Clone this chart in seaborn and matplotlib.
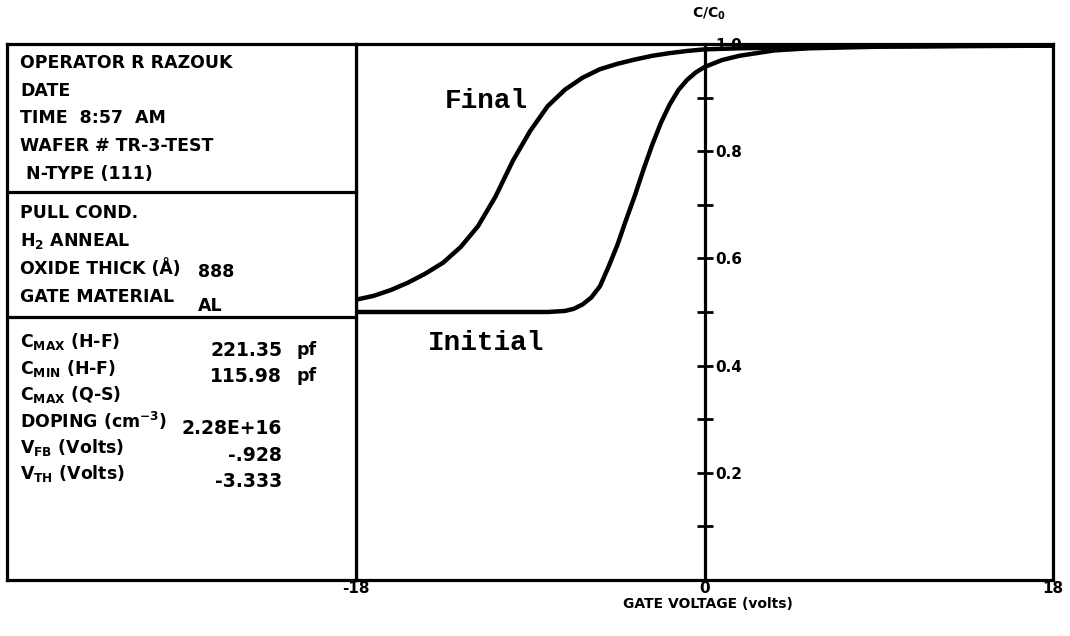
import matplotlib
matplotlib.use('Agg')
import matplotlib.pyplot as plt
import pandas as pd
import seaborn as sns

sns.set_style('white')
plt.rcParams['font.family'] = ['DejaVu Sans']
plt.rcParams['mathtext.default'] = 'bf'
plt.rcParams.update({'text.color': 'black', 'axes.labelcolor': 'black',
                     'xtick.color': 'black', 'ytick.color': 'black'})

# C/C0 against gate voltage
v_final = [-10, -9.5, -9, -8.5, -8, -7.5, -7, -6.5, -6, -5.5, -5, -4.5, -4, -3.5,
           -3, -2.5, -2, -1.5, -1, -0.5, 0, 1, 2, 4, 6, 8, 10]
c_final = [0.523, 0.530, 0.541, 0.555, 0.572, 0.592, 0.621, 0.660, 0.715, 0.782,
           0.838, 0.884, 0.915, 0.937, 0.953, 0.963, 0.971, 0.978, 0.983, 0.987,
           0.990, 0.992, 0.993, 0.995, 0.996, 0.997, 0.997]
v_initial = [-10, -8, -6, -5, -4.5, -4, -3.75, -3.5, -3.25, -3, -2.75, -2.5, -2.25,
             -2, -1.75, -1.5, -1.25, -1, -0.75, -0.5, -0.25, 0, 0.5, 1, 2, 3, 5, 10]
c_initial = [0.500, 0.500, 0.500, 0.500, 0.500, 0.502, 0.506, 0.514, 0.527, 0.548,
             0.585, 0.625, 0.672, 0.717, 0.766, 0.812, 0.853, 0.887, 0.914, 0.933,
             0.947, 0.957, 0.970, 0.978, 0.988, 0.992, 0.995, 0.997]

x_ticks = [-10, -8, -6, -4, -2, 0, 2, 4, 6, 8, 10]
x_tick_labels = ['-18', '', '', '', '', '0', '', '', '', '', '18']
y_ticks = [0.1, 0.2, 0.3, 0.4, 0.5, 0.6, 0.7, 0.8, 0.9, 1.0]
y_tick_labels = ['', '0.2', '', '0.4', '', '0.6', '', '0.8', '', '1.0']

header_lines = ['OPERATOR R RAZOUK', 'DATE', 'TIME  8:57  AM', 'WAFER # TR-3-TEST',
                ' N-TYPE (111)']
cond_lines = ['PULL COND.', 'H$_2$ ANNEAL', 'OXIDE THICK (Å)', 'GATE MATERIAL']
cond_values = ['', '', '888', 'AL']
param_names = ['C$_{MAX}$ (H-F)', 'C$_{MIN}$ (H-F)', 'C$_{MAX}$ (Q-S)',
               'DOPING (cm$^{-3}$)', 'V$_{FB}$ (Volts)', 'V$_{TH}$ (Volts)']
param_values = ['221.35', '115.98', '', '2.28E+16', '-.928', '-3.333']
param_units = ['pf', 'pf', '', '', '', '']

df = pd.concat([
    pd.DataFrame({'V': v_final, 'C': c_final, 'curve': 'Final'}),
    pd.DataFrame({'V': v_initial, 'C': c_initial, 'curve': 'Initial'}),
])

W, H = 1070, 636
fig = plt.figure(figsize=(W / 100, H / 100), dpi=100)

# curve area
ax = fig.add_axes([356 / W, 1 - 580 / H, 697 / W, 536 / H])
sns.lineplot(data=df, x='V', y='C', hue='curve', palette=['black', 'black'],
             linewidth=3.2, legend=False, ax=ax)
ax.set_xlim(-10, 10)
ax.set_ylim(0, 1.0)
for s in ax.spines.values():
    s.set_linewidth(2.3)
    s.set_color('black')
ax.set_xticks(x_ticks, x_tick_labels)
ax.tick_params(axis='x', direction='in', length=7, width=2, pad=1, labelsize=11)
for lab in ax.get_xticklabels():
    lab.set_fontweight('bold')
ax.set_yticks([])
ax.set_ylabel('')
ax.set_xlabel('GATE VOLTAGE (volts)', fontsize=10, fontweight='bold')
ax.xaxis.set_label_coords(0.505, -0.031)

yax = ax.secondary_yaxis(0, transform=ax.transData)
yax.set_alignment('right')
for s in yax.spines.values():
    s.set_linewidth(2.3)
    s.set_color('black')
yax.set_yticks(y_ticks, y_tick_labels)
yax.tick_params(direction='inout', length=11, width=2, pad=2, labelsize=11)
for lab in yax.get_yticklabels():
    lab.set_fontweight('bold')

ax.annotate('C/C$_0$', xy=(0, 1), xycoords=('data', 'axes fraction'),
            xytext=(3, 22), textcoords='offset points', ha='center', va='center',
            fontsize=10, fontweight='bold')
ax.text(-6.27, 0.894, 'Final', ha='center', va='center', fontsize=20,
        family='Liberation Mono', fontweight='bold')
ax.text(-6.27, 0.442, 'Initial', ha='center', va='center', fontsize=20,
        family='Liberation Mono', fontweight='bold')

# left info panel, coordinates in pixels of the page
pan = fig.add_axes([7 / W, 1 - 580 / H, 349 / W, 536 / H])
pan.set_xlim(7, 356)
pan.set_ylim(580, 44)
pan.set_xticks([])
pan.set_yticks([])
for s in pan.spines.values():
    s.set_linewidth(2.3)
    s.set_color('black')
pan.axhline(192, color='black', lw=2.3)
pan.axhline(317, color='black', lw=2.3)

tkw = dict(va='center', fontsize=12.5, fontweight='bold')
for i, line in enumerate(header_lines):
    pan.text(20, 63 + i * 27.7, line, **tkw)
for i, line in enumerate(cond_lines):
    pan.text(20, 213 + i * 28, line, **tkw)
    if cond_values[i]:
        pan.text(198, 216 + i * 28 + (6 if i == 3 else 0), cond_values[i], **tkw)
for i, line in enumerate(param_names):
    y = 342 + i * 26.3
    pan.text(20, y, line, **tkw)
    if param_values[i]:
        pan.text(282, y + 8, param_values[i], ha='right', va='center',
                 fontsize=13.5, fontweight='bold')
    if param_units[i]:
        pan.text(296, y + 8, param_units[i], **tkw)

fig.savefig('out.png', dpi=100)
